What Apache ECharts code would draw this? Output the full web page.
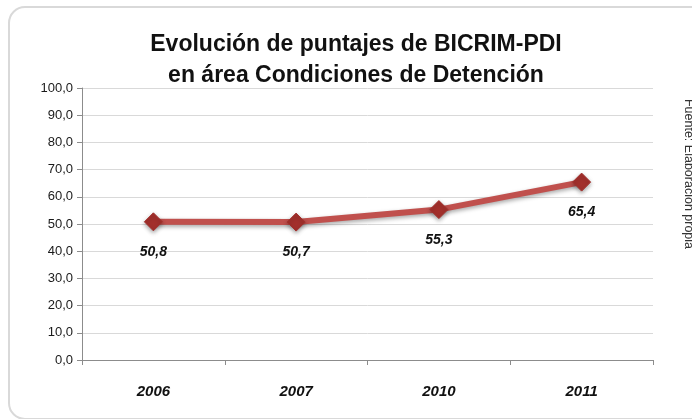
<!DOCTYPE html>
<html>
<head>
<meta charset="utf-8">
<script src="https://cdn.jsdelivr.net/npm/echarts@6/dist/echarts.min.js"></script>
<style>
	html, body { margin: 0; padding: 0; background: #fff; }
	#chart { width: 692px; height: 419px; }
</style>
</head>
<body>
<div id="chart"></div>
<script>
	// datos del grafico
	var years = ['2006', '2007', '2010', '2011'];
	var scores = [50.8, 50.7, 55.3, 65.4];
	var yTicks = { min: 0, max: 100, step: 10 };

	function coma(v) {
		return Number(v).toFixed(1).replace('.', ',');
	}

	var chart = echarts.init(document.getElementById('chart'));

	var option = {
		animation: false,
		backgroundColor: '#fff',
		title: {
			text: 'Evolución de puntajes de BICRIM-PDI\nen área Condiciones de Detención',
			left: 351,
			textAlign: 'center',
			top: 24,
			textStyle: {
				fontFamily: 'Liberation Sans',
				fontWeight: 'bold',
				fontSize: 23,
				lineHeight: 31,
				color: '#111'
			}
		},
		grid: {
			left: 82,
			right: 39,
			top: 88,
			bottom: 59
		},
		xAxis: {
			type: 'category',
			data: years,
			boundaryGap: true,
			axisLine: { lineStyle: { color: '#8c8c8c', width: 1 } },
			axisTick: { show: true, length: 5, lineStyle: { color: '#8c8c8c' } },
			axisLabel: {
				margin: 24,
				fontFamily: 'Liberation Sans',
				fontSize: 15,
				fontWeight: 'bold',
				fontStyle: 'italic',
				color: '#111'
			}
		},
		yAxis: {
			type: 'value',
			min: yTicks.min,
			max: yTicks.max,
			interval: yTicks.step,
			axisLine: { show: true, lineStyle: { color: '#8c8c8c' } },
			axisTick: { show: true, length: 5, lineStyle: { color: '#8c8c8c' } },
			splitLine: { lineStyle: { color: '#d9d9d9', width: 1 } },
			axisLabel: {
				margin: 9,
				fontFamily: 'Liberation Sans',
				fontSize: 13,
				color: '#1a1a1a',
				formatter: coma
			}
		},
		series: [{
			type: 'line',
			data: scores,
			symbol: 'diamond',
			symbolSize: 18,
			lineStyle: {
				color: '#c0504d',
				width: 6,
				shadowColor: 'rgba(0,0,0,0.35)',
				shadowBlur: 4,
				shadowOffsetY: 2
			},
			itemStyle: {
				color: '#a3302c',
				borderColor: '#a3302c',
				shadowColor: 'rgba(0,0,0,0.35)',
				shadowBlur: 4,
				shadowOffsetY: 2
			},
			label: {
				show: true,
				position: 'bottom',
				distance: 14,
				fontFamily: 'Liberation Sans',
				fontSize: 14,
				fontWeight: 'bold',
				fontStyle: 'italic',
				color: '#111',
				formatter: function (p) { return coma(p.value); }
			}
		}],
		graphic: [{
			type: 'rect',
			silent: true,
			z: -1,
			shape: { x: 9, y: 7, width: 760, height: 412, r: 16 },
			style: { fill: 'none', stroke: '#d9d9d9', lineWidth: 2 }
		}, {
			type: 'text',
			silent: true,
			x: 688,
			y: 174,
			rotation: -Math.PI / 2,
			style: {
				text: 'Fuente: Elaboración propia',
				fontFamily: 'Liberation Sans',
				fontSize: 12.5,
				fill: '#333',
				align: 'center',
				verticalAlign: 'middle'
			}
		}]
	};

	chart.setOption(option);
</script>
</body>
</html>
